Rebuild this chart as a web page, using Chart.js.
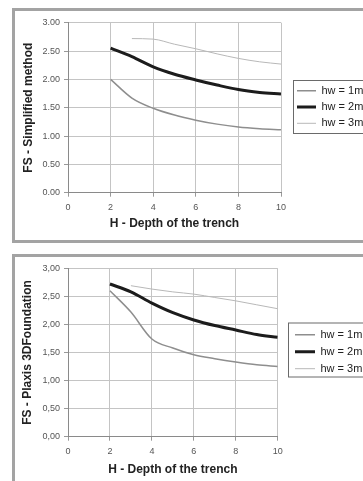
<!DOCTYPE html>
<html><head><meta charset="utf-8">
<script src="https://cdn.jsdelivr.net/npm/chart.js@4"></script>
<style>
html,body{margin:0;padding:0;background:#fff;width:363px;height:481px;overflow:hidden;position:relative;}
.box{position:absolute;left:12px;width:420px;border:3px solid #a3a3a3;box-sizing:border-box;}
#b1{top:8px;height:235px;}
#b2{top:254px;height:300px;}
canvas{position:absolute;left:0;}
#c1{top:0;width:363px;height:240px;}
#c2{top:246px;width:363px;height:235px;}
</style></head><body>
<div class="box" id="b1"></div><div class="box" id="b2"></div>
<canvas id="c1" width="363" height="240"></canvas>
<canvas id="c2" width="363" height="235"></canvas>
<script>
// ---- data ----
const depthH = [2, 3, 4, 5, 6, 7, 8, 9, 10];
const seriesNames = ['hw = 1m', 'hw = 2m', 'hw = 3m'];
const simpHw1 = [2.00, 1.67, 1.49, 1.37, 1.28, 1.21, 1.16, 1.13, 1.11];
const simpHw2 = [2.55, 2.40, 2.22, 2.09, 1.99, 1.90, 1.82, 1.77, 1.74];
const simpHw3 = [null, 2.72, 2.71, 2.62, 2.54, 2.45, 2.37, 2.31, 2.27];
const plaxHw1 = [2.60, 2.22, 1.74, 1.58, 1.46, 1.39, 1.33, 1.28, 1.25];
const plaxHw2 = [2.72, 2.58, 2.38, 2.21, 2.08, 1.98, 1.90, 1.82, 1.77];
const plaxHw3 = [null, 2.69, 2.63, 2.58, 2.54, 2.48, 2.42, 2.35, 2.28];
const xTickValues = [0, 2, 4, 6, 8, 10];
const yTickLabelsTop = ['0.00', '0.50', '1.00', '1.50', '2.00', '2.50', '3.00'];
const yTickLabelsBottom = ['0,00', '0,50', '1,00', '1,50', '2,00', '2,50', '3,00'];
const xTitle = 'H - Depth of the trench';
const yTitleTop = 'FS - Simplified method';
const yTitleBottom = 'FS - Plaxis 3DFoundation';

Chart.defaults.font.family = "'Liberation Sans', Arial, sans-serif";
Chart.defaults.animation = false;

const styles = [
  {color: '#8e8e8e', width: 1.5},
  {color: '#1c1c1c', width: 3},
  {color: '#b8b8b8', width: 1}
];

function toPoints(vals) { return depthH.map((h, i) => ({x: h, y: vals[i]})); }

function makeChart(id, series, yLabels, yTitle, g) {
  const legendPlacer = {
    id: 'legendPlacer',
    afterLayout(chart) {
      const lg = chart.legend; if (!lg) return;
      lg.left = g.lx - g.lpad; lg.right = lg.left + 200;
      lg.top = g.ly - 5.5 - g.lpad; lg.bottom = lg.top + 100;
    },
    afterDraw(chart) {
      const ctx = chart.ctx; ctx.save();
      ctx.strokeStyle = '#6a6a6a'; ctx.lineWidth = 1;
      ctx.strokeRect(g.bx, g.by, 200, g.bh);
      ctx.restore();
    }
  };
  return new Chart(document.getElementById(id), {
    type: 'line',
    data: {
      datasets: series.map((s, i) => ({
        label: seriesNames[i],
        data: toPoints(s),
        borderColor: styles[i].color,
        backgroundColor: styles[i].color,
        borderWidth: styles[i].width,
        pointRadius: 0,
        fill: false,
        cubicInterpolationMode: 'monotone'
      }))
    },
    options: {
      responsive: false,
      devicePixelRatio: 1,
      layout: {padding: {left: g.pl, top: g.pt, right: g.pr, bottom: g.pb}},
      plugins: {
        tooltip: {enabled: false},
        legend: {
          position: 'chartArea', align: 'start',
          labels: {
            usePointStyle: true, pointStyle: 'line', pointStyleWidth: g.lw,
            padding: g.lpad, color: '#222', font: {size: 11}
          }
        }
      },
      scales: {
        x: {
          type: 'linear', min: 0, max: 10,
          afterFit: s => { s.height = g.xh; },
          afterBuildTicks: s => { s.ticks = xTickValues.map(v => ({value: v})); },
          ticks: {font: {size: 9}, color: '#555', padding: 5, maxRotation: 0},
          grid: {color: '#c4c4c4', tickLength: 4, tickColor: '#999'},
          border: {color: '#8a8a8a', width: 1},
          title: {display: true, text: xTitle, color: '#222', font: {size: 12, weight: 'bold'}, padding: {top: 4, bottom: 4}}
        },
        y: {
          type: 'linear', min: 0, max: 3,
          afterFit: s => { s.width = g.yw; },
          ticks: {stepSize: 0.5, font: {size: 9}, color: '#555', padding: 4,
                  callback: (v, i) => yLabels[i]},
          grid: {color: '#c4c4c4', tickLength: 4, tickColor: '#999'},
          border: {color: '#8a8a8a', width: 1},
          title: {display: true, text: yTitle, color: '#222', font: {size: 12, weight: 'bold'}, padding: {top: 4, bottom: 4}}
        }
      }
    },
    plugins: [legendPlacer]
  });
}

makeChart('c1', [simpHw1, simpHw2, simpHw3], yTickLabelsTop, yTitleTop,
  {pl: 17, pt: 22.7, pr: 82, pb: 4.8, yw: 51, xh: 42.5,
   lx: 297, ly: 90.7, lpad: 5.3, lw: 19, bx: 293.5, by: 80.5, bh: 53});
makeChart('c2', [plaxHw1, plaxHw2, plaxHw3], yTickLabelsBottom, yTitleBottom,
  {pl: 16, pt: 22.3, pr: 85.3, pb: 0.5, yw: 52, xh: 43.8,
   lx: 295, ly: 88.7, lpad: 6, lw: 20, bx: 288.5, by: 77, bh: 54});
</script>
</body></html>
